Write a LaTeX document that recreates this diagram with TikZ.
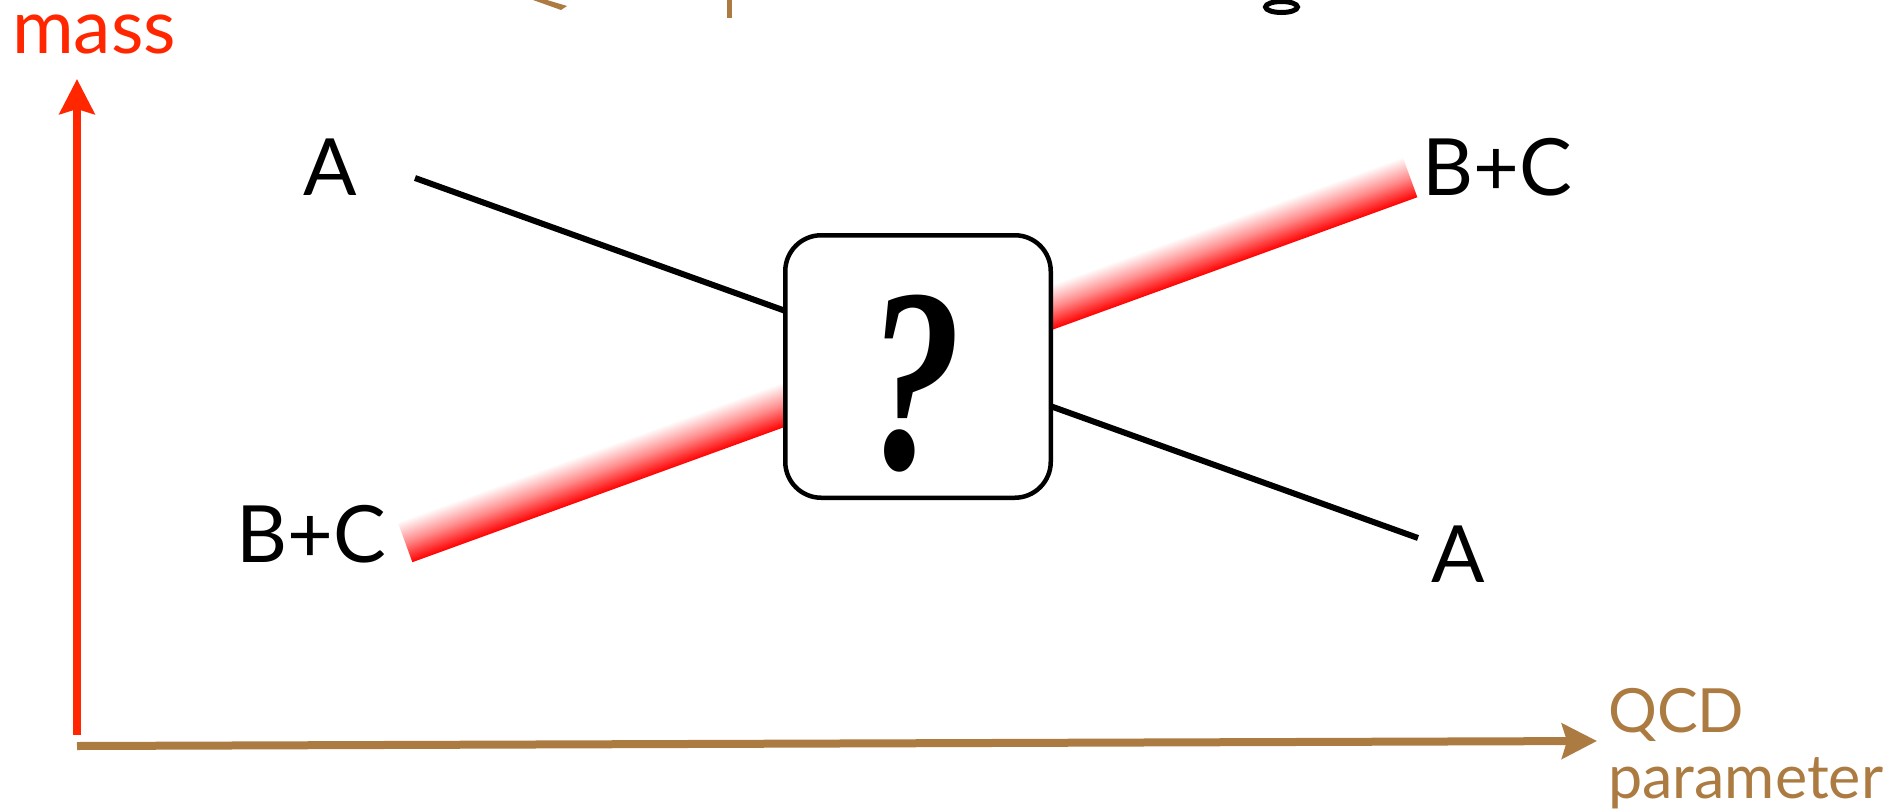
\documentclass[tikz,border=0pt]{standalone}
\usepackage{fontspec}
\setmainfont{Lato}
\newfontfamily\qfont{Liberation Serif}
\usetikzlibrary{arrows.meta}
\definecolor{axred}{RGB}{255,38,0}
\definecolor{axbrown}{RGB}{172,123,66}
\definecolor{barred}{RGB}{255,0,0}
\begin{document}
\begin{tikzpicture}[x=1pt,y=1pt,
  lbl/.style={inner sep=0pt, font=\fontsize{79}{90}\selectfont},
  axlbl/.style={inner sep=0pt, text=axbrown, anchor=base west, font=\fontsize{61}{70}\selectfont},
  axtip/.style={-{Stealth[length=35pt,width=35pt,inset=5pt]}},
  crossline/.style={line width=6pt, black},
  qbox/.style={draw, line width=4.5pt, fill=white, rounded corners=36pt,
    minimum width=265.5pt, minimum height=262.5pt, inner sep=0pt}]
\useasboundingbox (0,0) rectangle (1895,-811);
% cut-off fragments at the top edge
\fill[axbrown] (533,0) -- (547,0) -- (567,-6) -- (561,-10) -- cycle;
\fill[axbrown] (726.5,0) rectangle (731.5,-18);
\draw[line width=5pt] (1281.5,-7) ellipse (16 and 5.5);
% shaded B+C bar
\begin{scope}[transform canvas={shift={(907.5pt,-359.5pt)},rotate=19.96}]
  \shade[top color=white, bottom color=barred, middle color=barred!45] (-534.6,-21.5) rectangle (534.6,21.5);
\end{scope}
% black A line
\coordinate (a1) at (415,-178);
\coordinate (a2) at (1418,-538);
\draw[crossline] (a1) -- (a2);
% box
\node[qbox] (q) at (918,-366.5) {};
\node[inner sep=0pt, anchor=base] (qm) at (915,-468)
  {\scalebox{0.72}[1]{\qfont\bfseries\itshape\fontsize{262}{262}\selectfont ?}};
% axes
\coordinate (yb) at (77,-735);
\coordinate (yt) at (77,-79);
\draw[axred, line width=8pt, axtip] (yb) -- (yt);
\coordinate (xl) at (77,-746);
\coordinate (xr) at (1597,-741);
\draw[axbrown, line width=8pt, axtip] (xl) -- (xr);
% labels
\node[lbl, text=axred, anchor=base west, text height=40pt, text depth=0pt,
  font=\fontsize{75}{86}\selectfont] (mass) at (12,-53) {mass};
\node[lbl, anchor=base] (A1) at (330,-195) {A};
\node[lbl, anchor=base] (BC1) at (311,-562) {B+C};
\node[lbl, anchor=base] (BC2) at (1497,-195) {B+C};
\node[lbl, anchor=base] (A2) at (1458,-582) {A};
\node[axlbl] (qcd) at (1608,-732) {QCD};
\node[axlbl] (par) at (1608,-798) {parameter};
\end{tikzpicture}
\end{document}
